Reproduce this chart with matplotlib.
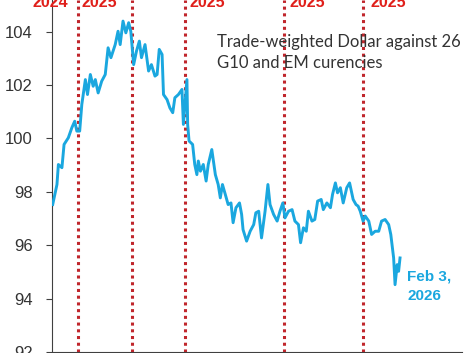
import matplotlib.pyplot as plt

# days since 30 Sep 2024, trade-weighted dollar index
days = [1, 7, 9, 14, 17, 23, 28, 32, 35, 39, 42, 47, 50, 54, 58, 61, 65, 70, 75,
        79, 83, 89, 93, 96, 100, 104, 108, 111, 115, 119, 123, 126, 131, 136, 140,
        145, 148, 151, 155, 157, 162, 166, 170, 173, 178, 183, 185, 190, 191, 193,
        198, 201, 204, 206, 209, 213, 217, 220, 225, 230, 234, 237, 240, 244, 248,
        252, 255, 259, 264, 267, 269, 274, 279, 284, 287, 291, 295, 300, 304, 307,
        312, 317, 321, 325, 328, 333, 338, 342, 347, 350, 354, 358, 361, 366, 370,
        374, 379, 382, 387, 392, 395, 399, 402, 406, 410, 415, 419, 424, 428, 431,
        434, 438, 441, 446, 450, 455, 460, 464, 469, 474, 477, 481, 483, 486, 488, 490]
index = [97.52, 98.27, 99.02, 98.90, 99.77, 100.02, 100.40, 100.64, 100.27, 100.27,
         101.27, 102.20, 101.64, 102.39, 101.95, 102.20, 101.70, 102.14, 102.39,
         103.39, 103.02, 103.51, 104.01, 103.51, 104.39, 103.95, 104.33, 104.00,
         102.76, 103.27, 103.64, 103.02, 103.51, 102.52, 102.76, 102.33, 102.39,
         103.33, 103.14, 101.64, 101.45, 101.14, 100.96, 101.52, 101.64, 101.83,
         100.52, 102.20, 100.52, 99.90, 99.77, 99.02, 98.64, 99.15, 98.77, 99.02,
         98.40, 99.02, 99.58, 98.64, 98.27, 97.77, 98.27, 97.90, 97.52, 97.58,
         96.84, 97.40, 97.58, 97.15, 96.58, 96.15, 96.52, 96.77, 97.21, 97.27,
         96.27, 97.27, 98.27, 97.52, 97.15, 96.90, 97.27, 97.58, 97.02, 97.27,
         97.33, 96.90, 96.77, 96.09, 96.65, 96.52, 97.27, 96.90, 96.96, 97.65,
         97.71, 97.33, 97.58, 97.40, 97.90, 98.33, 97.96, 98.15, 97.58, 98.15,
         98.33, 97.71, 97.52, 97.46, 97.27, 96.90, 97.09, 96.90, 96.40, 96.52,
         96.52, 96.90, 96.96, 96.77, 96.40, 95.52, 94.52, 95.27, 95.02, 95.52]

event_days = [37, 112, 187, 327, 438]
event_labels = ['2024', '2025', '2025', '2025', '2025']
label_days = [-28, 42, 194, 335, 448]

blue = '#1aa7df'
red = '#c0262c'

fig = plt.figure(figsize=(4.7, 3.53), dpi=100)
ax = fig.add_axes([0.1106, 0.003, 0.872, 0.997])

for d in event_days:
    ax.axvline(d, color=red, linestyle=(0, (1, 1.2)), linewidth=2.2, zorder=1)

ax.plot(days, index, color=blue, linewidth=2.1, zorder=3)

for d, t in zip(label_days, event_labels):
    ax.text(d, 104.91, t, color='#e0201b', fontweight='bold', fontsize=11.5,
            family='Liberation Sans', ha='left', va='baseline', clip_on=False)

ax.text(232, 103.92, 'Trade-weighted Dollar against 26\nG10 and EM curencies',
        fontsize=12, color='#333333', family='Lato', ha='left', va='top',
        linespacing=1.45, zorder=4)
ax.text(500, 95.1, 'Feb 3,\n2026', fontsize=11, fontweight='bold', color=blue,
        family='Liberation Sans', ha='left', va='top', linespacing=1.5)

ax.set_xlim(0, 577)
ax.set_ylim(92, 105.18)
ax.set_yticks([92, 94, 96, 98, 100, 102, 104])
ax.set_xticks([])
ax.spines['top'].set_visible(False)
ax.spines['right'].set_visible(False)
ax.spines['left'].set_color('#404040')
ax.spines['bottom'].set_color('#404040')
ax.tick_params(axis='y', length=4.5, pad=9.5, labelsize=12, colors='#404040',
               labelcolor='#333333')
for lab in ax.get_yticklabels():
    lab.set_family('Liberation Sans')

fig.savefig('out.png', dpi=100)
